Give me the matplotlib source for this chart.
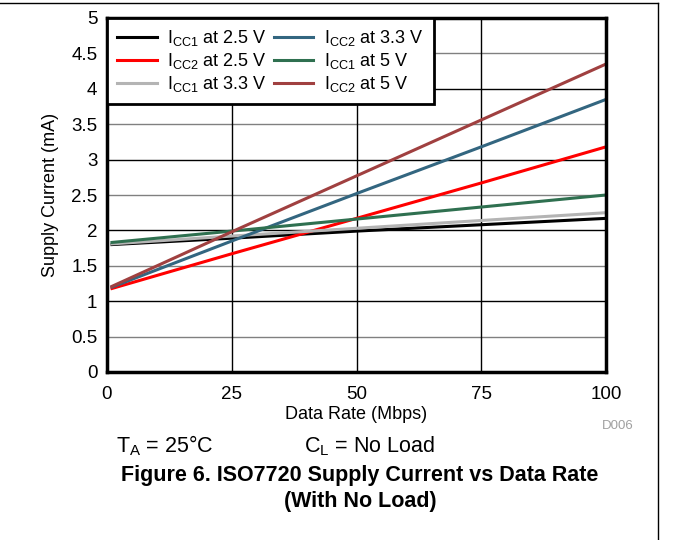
import matplotlib
matplotlib.use("Agg")
import matplotlib.pyplot as plt
from matplotlib.lines import Line2D

plt.rcParams['font.family'] = ['Liberation Sans', 'DejaVu Sans']
plt.rcParams['mathtext.default'] = 'regular'

# data rate (Mbps) and supply currents (mA)
rate = [1, 25, 50, 75, 100]
icc1_25 = [1.80, 1.89, 1.99, 2.08, 2.17]
icc2_25 = [1.18, 1.67, 2.17, 2.67, 3.18]
icc1_33 = [1.81, 1.92, 2.03, 2.14, 2.25]
icc2_33 = [1.20, 1.85, 2.52, 3.18, 3.85]
icc1_5 = [1.83, 1.99, 2.16, 2.33, 2.50]
icc2_5 = [1.21, 1.98, 2.77, 3.56, 4.35]

series = [
    (icc1_25, r'I$_{CC1}$ at 2.5 V', 'black'),
    (icc2_25, r'I$_{CC2}$ at 2.5 V', '#ff0000'),
    (icc1_33, r'I$_{CC1}$ at 3.3 V', '#b4b4b4'),
    (icc2_33, r'I$_{CC2}$ at 3.3 V', '#336680'),
    (icc1_5, r'I$_{CC1}$ at 5 V', '#2f7050'),
    (icc2_5, r'I$_{CC2}$ at 5 V', '#a04040'),
]

fig = plt.figure(figsize=(6.73, 5.4), dpi=100)
ax = fig.add_axes([107/673, 1 - 372/540, (606-107)/673, (372-18)/540])

for vals, lab, col in series:
    ax.plot(rate, vals, color=col, lw=2.2, label=lab)

ax.set_xlim(0, 100)
ax.set_ylim(0, 5)
ax.set_xticks([0, 25, 50, 75, 100])
ax.set_yticks([0, 0.5, 1, 1.5, 2, 2.5, 3, 3.5, 4, 4.5, 5])
ax.set_yticklabels(['0', '0.5', '1', '1.5', '2', '2.5', '3', '3.5', '4', '4.5', '5'])
ax.tick_params(length=0, labelsize=13.5)
ax.tick_params(axis='x', pad=10)
ax.tick_params(axis='y', pad=7)

# gridlines: black on whole numbers, grey on halves
for y in [1, 2, 3, 4]:
    ax.axhline(y, color='black', lw=1, zorder=0.5)
for y in [0.5, 1.5, 2.5, 3.5, 4.5]:
    ax.axhline(y, color='#808080', lw=1, zorder=0.5)
for x in [25, 50, 75]:
    ax.axvline(x, color='black', lw=1, zorder=0.5)

for s in ax.spines.values():
    s.set_linewidth(2.5)

ax.set_xlabel('Data Rate (Mbps)', fontsize=13, labelpad=2)
ax.set_ylabel('Supply Current (mA)', fontsize=13, labelpad=9)

leg = ax.legend(loc='upper left', bbox_to_anchor=(0, 1), borderaxespad=0, ncol=2,
                fontsize=13, handlelength=2.2, columnspacing=0.35, handletextpad=0.6,
                labelspacing=0.18, fancybox=False, framealpha=1, borderpad=0.55)
leg.get_frame().set_edgecolor('black')
leg.get_frame().set_linewidth(2)

fig.text(618/673, 1 - 426/540, 'D006', color='#a0a0a0', fontsize=9.5, ha='center', va='center')
fig.text(116/673, 1 - 446/540, r'T$_A$ = 25°C', fontsize=15.5, va='center')
fig.text(304/673, 1 - 446/540, r'C$_L$ = No Load', fontsize=15.5, va='center')
fig.text(360/673, 1 - 475/540, 'Figure 6. ISO7720 Supply Current vs Data Rate',
         fontsize=15.5, fontweight='bold', ha='center', va='center')
fig.text(360/673, 1 - 501/540, '(With No Load)',
         fontsize=15.5, fontweight='bold', ha='center', va='center')

# page border lines
fig.add_artist(Line2D([0, 658/673], [1 - 3/540, 1 - 3/540], color='black', lw=1))
fig.add_artist(Line2D([658/673, 658/673], [1 - 3/540, 0], color='black', lw=1))

fig.savefig('out.png', dpi=100)
